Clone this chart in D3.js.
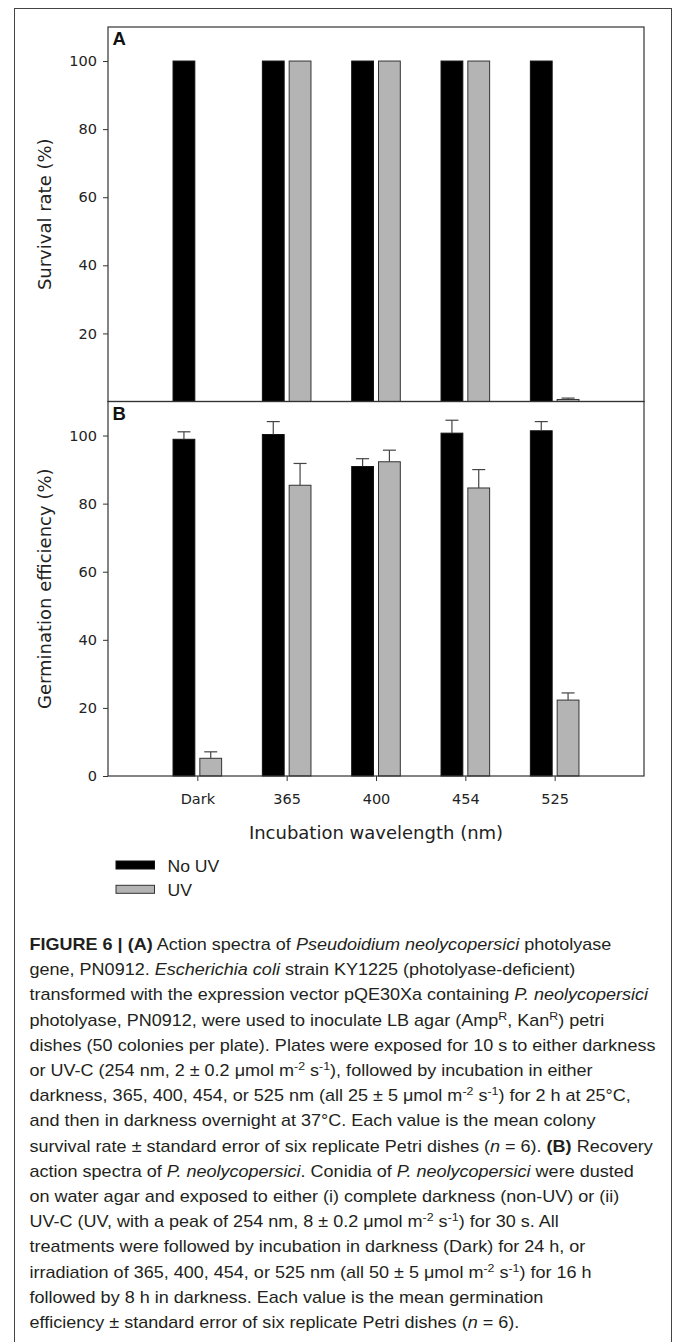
<!DOCTYPE html>
<html>
<head>
<meta charset="utf-8">
<script src="https://cdn.jsdelivr.net/npm/d3@7"></script>
<style>
  html, body { margin: 0; padding: 0; background: #fff; }
  svg { display: block; }
</style>
</head>
<body>
<svg id="chart" width="674" height="1342"></svg>
<script>
// ---------- data ----------
const categories = ["Dark", "365", "400", "454", "525"];
const seriesNames = ["No UV", "UV"];

// Panel A: survival rate (%)
const survivalNoUV    = [100, 100, 100, 100, 100];
const survivalNoUVErr = [0, 0, 0, 0, 0];
const survivalUV      = [0, 100, 100, 100, 0.6];
const survivalUVErr   = [0, 0, 0, 0, 0.4];

// Panel B: germination efficiency (%)
const germNoUV    = [98.9, 100.3, 90.9, 100.7, 101.4];
const germNoUVErr = [2.2, 3.8, 2.3, 3.8, 2.7];
const germUV      = [5.2, 85.4, 92.3, 84.6, 22.3];
const germUVErr   = [1.9, 6.4, 3.4, 5.4, 2.1];

const ticksA = [20, 40, 60, 80, 100];
const ticksB = [0, 20, 40, 60, 80, 100];

// ---------- layout ----------
const svg = d3.select("#chart");
const left = 108, right = 644;
const topA = 27, botA = 401.5, topB = 401.5, botB = 776;
const frameColor = "#333";
const grayFill = "#b4b4b4";
const tickFont = "DejaVu Sans, Verdana, sans-serif";

// outer figure border
svg.append("rect").attr("x", 14.5).attr("y", 8.5).attr("width", 657).attr("height", 1400)
  .attr("fill", "none").attr("stroke", "#444").attr("stroke-width", 1);

const x = d3.scaleLinear().domain([0, categories.length + 1]).range([left, right]);
const step = x(1) - x(0);
const barW = step * 0.244, gap = step * 0.056;

const yA = d3.scaleLinear().domain([0, 110]).range([botA, topA]);
const yB = d3.scaleLinear().domain([0, 110]).range([botB, topB]);

function drawBars(g, y, vals, errs, fill, stroke, offsetFn) {
  const data = vals.map((v, i) => ({v, e: errs[i], i}));
  const bars = data.filter(d => d.v > 0);
  g.selectAll(null).data(bars).enter().append("rect")
    .attr("x", d => offsetFn(x(d.i + 1)))
    .attr("y", d => y(d.v))
    .attr("width", barW)
    .attr("height", d => y(0) - y(d.v))
    .attr("fill", fill).attr("stroke", stroke).attr("stroke-width", 1);
  const eb = data.filter(d => d.e > 0);
  const cx = d => offsetFn(x(d.i + 1)) + barW / 2;
  g.selectAll(null).data(eb).enter().append("line")
    .attr("x1", cx).attr("x2", cx)
    .attr("y1", d => y(d.v)).attr("y2", d => y(d.v + d.e))
    .attr("stroke", "#444").attr("stroke-width", 1.2);
  g.selectAll(null).data(eb).enter().append("line")
    .attr("x1", d => cx(d) - 6.5).attr("x2", d => cx(d) + 6.5)
    .attr("y1", d => y(d.v + d.e)).attr("y2", d => y(d.v + d.e))
    .attr("stroke", "#444").attr("stroke-width", 1.2);
}

const offNo = c => c - gap / 2 - barW;
const offUV = c => c + gap / 2;

// ----- Panel A -----
const gA = svg.append("g");
drawBars(gA, yA, survivalNoUV, survivalNoUVErr, "#000", "#111", offNo);
drawBars(gA, yA, survivalUV, survivalUVErr, grayFill, "#333", offUV);

const axA = svg.append("g").attr("transform", `translate(${left},0)`)
  .call(d3.axisLeft(yA).tickValues(ticksA).tickSize(5).tickPadding(6).tickSizeOuter(0));
axA.select(".domain").remove();
axA.selectAll("line").attr("stroke", frameColor);
axA.selectAll("text").attr("font-family", tickFont).attr("font-size", 14.5).attr("fill", "#222");

svg.append("rect").attr("x", left).attr("y", topA).attr("width", right - left).attr("height", botA - topA)
  .attr("fill", "none").attr("stroke", frameColor).attr("stroke-width", 1.2);

svg.append("text").attr("x", 112.5).attr("y", 45).text("A")
  .attr("font-family", "Liberation Sans, Arial, sans-serif").attr("font-weight", "bold")
  .attr("font-size", 18.5).attr("fill", "#111");

svg.append("text")
  .attr("transform", `translate(51,${(topA + botA) / 2}) rotate(-90)`)
  .attr("text-anchor", "middle").text("Survival rate (%)")
  .attr("font-family", tickFont).attr("font-size", 18).attr("fill", "#222");

// ----- Panel B -----
const gB = svg.append("g");
drawBars(gB, yB, germNoUV, germNoUVErr, "#000", "#111", offNo);
drawBars(gB, yB, germUV, germUVErr, grayFill, "#333", offUV);

const axB = svg.append("g").attr("transform", `translate(${left},0)`)
  .call(d3.axisLeft(yB).tickValues(ticksB).tickSize(5).tickPadding(6).tickSizeOuter(0));
axB.select(".domain").remove();
axB.selectAll("line").attr("stroke", frameColor);
axB.selectAll("text").attr("font-family", tickFont).attr("font-size", 14.5).attr("fill", "#222");

const axX = svg.append("g").attr("transform", `translate(0,${botB})`)
  .call(d3.axisBottom(x).tickValues(d3.range(1, categories.length + 1))
    .tickFormat(d => categories[d - 1]).tickSize(5).tickPadding(13).tickSizeOuter(0));
axX.select(".domain").remove();
axX.selectAll("line").attr("stroke", frameColor);
axX.selectAll("text").attr("font-family", tickFont).attr("font-size", 14.5).attr("fill", "#222");

svg.append("rect").attr("x", left).attr("y", topB).attr("width", right - left).attr("height", botB - topB)
  .attr("fill", "none").attr("stroke", frameColor).attr("stroke-width", 1.2);

svg.append("text").attr("x", 112.5).attr("y", 420).text("B")
  .attr("font-family", "Liberation Sans, Arial, sans-serif").attr("font-weight", "bold")
  .attr("font-size", 18.5).attr("fill", "#111");

svg.append("text")
  .attr("transform", `translate(51,${(topB + botB) / 2}) rotate(-90)`)
  .attr("text-anchor", "middle").text("Germination efficiency (%)")
  .attr("font-family", tickFont).attr("font-size", 18).attr("fill", "#222");

svg.append("text").attr("x", (left + right) / 2).attr("y", 839)
  .attr("text-anchor", "middle").text("Incubation wavelength (nm)")
  .attr("font-family", tickFont).attr("font-size", 18).attr("fill", "#222");

// ----- legend -----
const legendFills = ["#000", grayFill];
const legendStrokes = ["#111", "#333"];
const textScaleX = 1.1;   // original caption face is wider than Arial metrics
seriesNames.forEach((name, i) => {
  const yy = 861 + i * 24.3;
  svg.append("rect").attr("x", 116).attr("y", yy).attr("width", 38.5).attr("height", 8)
    .attr("fill", legendFills[i]).attr("stroke", legendStrokes[i]).attr("stroke-width", 1);
  svg.append("text").text(name)
    .attr("transform", `translate(167.5,${yy + 10.8}) scale(${textScaleX},1)`)
    .attr("font-family", "Liberation Sans, Arial, sans-serif").attr("font-size", 16)
    .attr("fill", "#231f20");
});

// ----- caption -----
const captionLines = [
  [["FIGURE 6 | (A)", "b"], [" Action spectra of "], ["Pseudoidium neolycopersici", "i"], [" photolyase"]],
  [["gene, PN0912. "], ["Escherichia coli", "i"], [" strain KY1225 (photolyase-deficient)"]],
  [["transformed with the expression vector pQE30Xa containing "], ["P. neolycopersici", "i"]],
  [["photolyase, PN0912, were used to inoculate LB agar (Amp"], ["R", "sup"], [", Kan"], ["R", "sup"], [") petri"]],
  [["dishes (50 colonies per plate). Plates were exposed for 10 s to either darkness"]],
  [["or UV-C (254 nm, 2 \u00b1 0.2 \u03bcmol m"], ["-2", "sup"], [" s"], ["-1", "sup"], ["), followed by incubation in either"]],
  [["darkness, 365, 400, 454, or 525 nm (all 25 \u00b1 5 \u03bcmol m"], ["-2", "sup"], [" s"], ["-1", "sup"], [") for 2 h at 25\u00b0C,"]],
  [["and then in darkness overnight at 37\u00b0C. Each value is the mean colony"]],
  [["survival rate \u00b1 standard error of six replicate Petri dishes ("], ["n", "i"], [" = 6). "], ["(B)", "b"], [" Recovery"]],
  [["action spectra of "], ["P. neolycopersici", "i"], [". Conidia of "], ["P. neolycopersici", "i"], [" were dusted"]],
  [["on water agar and exposed to either (i) complete darkness (non-UV) or (ii)"]],
  [["UV-C (UV, with a peak of 254 nm, 8 \u00b1 0.2 \u03bcmol m"], ["-2", "sup"], [" s"], ["-1", "sup"], [") for 30 s. All"]],
  [["treatments were followed by incubation in darkness (Dark) for 24 h, or"]],
  [["irradiation of 365, 400, 454, or 525 nm (all 50 \u00b1 5 \u03bcmol m"], ["-2", "sup"], [" s"], ["-1", "sup"], [") for 16 h"]],
  [["followed by 8 h in darkness. Each value is the mean germination"]],
  [["efficiency \u00b1 standard error of six replicate Petri dishes ("], ["n", "i"], [" = 6)."]]
];
const capX = 29.5, capY0 = 950, capDy = 25.2;
const capWidest = 656;   // right end of the longest caption line

const capTexts = captionLines.map((segs, li) => {
  const t = svg.append("text")
    .attr("font-family", "Liberation Sans, Arial, sans-serif")
    .attr("font-size", 16).attr("fill", "#231f20");
  let shifted = false;
  segs.forEach(([txt, st]) => {
    const ts = t.append("tspan").text(txt);
    if (st === "b") ts.attr("font-weight", "bold");
    if (st === "i") ts.attr("font-style", "italic");
    if (st === "sup") {
      ts.attr("font-size", 11).attr("dy", -6);
      shifted = true;
    } else if (shifted) {
      ts.attr("dy", 6);
      shifted = false;
    }
  });
  return t;
});
const maxW = d3.max(capTexts, t => t.node().getComputedTextLength());
const capScale = (capWidest - capX) / maxW;
capTexts.forEach((t, li) => {
  t.attr("transform", `translate(${capX},${capY0 + li * capDy}) scale(${capScale},1)`);
});
</script>
</body>
</html>
